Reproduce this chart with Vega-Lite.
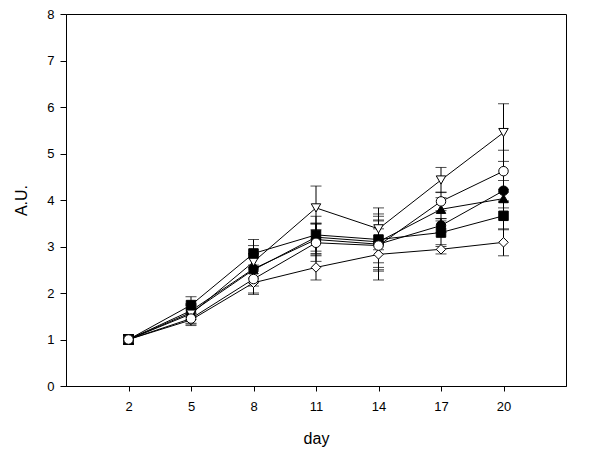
{
  "$schema": "https://vega.github.io/schema/vega-lite/v6.json",
  "width": 500,
  "height": 372,
  "autosize": "none",
  "padding": {"left": 66, "top": 14, "right": 34, "bottom": 75},
  "background": "white",
  "config": {
    "view": {"stroke": "black", "strokeWidth": 1},
    "font": "Liberation Sans",
    "axis": {"domainColor": "black", "tickColor": "black", "labelColor": "black", "titleColor": "black", "grid": false, "labelFont": "Liberation Sans", "titleFont": "Liberation Sans", "titleFontWeight": "normal", "labelFontSize": 13, "titleFontSize": 16}
  },
  "data": {
    "values": [
      {"series": "A", "ord": 1, "day": 2, "value": 1.0, "se": 0.1},
      {"series": "A", "ord": 1, "day": 5, "value": 1.62, "se": 0.15},
      {"series": "A", "ord": 1, "day": 8, "value": 2.52, "se": 0.3},
      {"series": "A", "ord": 1, "day": 11, "value": 3.15, "se": 0.35},
      {"series": "A", "ord": 1, "day": 14, "value": 3.05, "se": 0.5},
      {"series": "A", "ord": 1, "day": 17, "value": 3.45, "se": 0.15},
      {"series": "A", "ord": 1, "day": 20, "value": 4.2, "se": 0.22},
      {"series": "B", "ord": 6, "day": 2, "value": 1.0, "se": 0.1},
      {"series": "B", "ord": 6, "day": 5, "value": 1.45, "se": 0.12},
      {"series": "B", "ord": 6, "day": 8, "value": 2.3, "se": 0.3},
      {"series": "B", "ord": 6, "day": 11, "value": 3.08, "se": 0.4},
      {"series": "B", "ord": 6, "day": 14, "value": 3.02, "se": 0.55},
      {"series": "B", "ord": 6, "day": 17, "value": 3.97, "se": 0.2},
      {"series": "B", "ord": 6, "day": 20, "value": 4.62, "se": 0.45},
      {"series": "C", "ord": 2, "day": 2, "value": 1.0, "se": 0.1},
      {"series": "C", "ord": 2, "day": 5, "value": 1.58, "se": 0.15},
      {"series": "C", "ord": 2, "day": 8, "value": 2.5, "se": 0.35},
      {"series": "C", "ord": 2, "day": 11, "value": 3.2, "se": 0.3},
      {"series": "C", "ord": 2, "day": 14, "value": 3.1, "se": 0.6},
      {"series": "C", "ord": 2, "day": 17, "value": 3.8, "se": 0.25},
      {"series": "C", "ord": 2, "day": 20, "value": 4.03, "se": 0.2},
      {"series": "D", "ord": 3, "day": 2, "value": 1.0, "se": 0.1},
      {"series": "D", "ord": 3, "day": 5, "value": 1.55, "se": 0.2},
      {"series": "D", "ord": 3, "day": 8, "value": 2.67, "se": 0.35},
      {"series": "D", "ord": 3, "day": 11, "value": 3.83, "se": 0.47},
      {"series": "D", "ord": 3, "day": 14, "value": 3.38, "se": 0.45},
      {"series": "D", "ord": 3, "day": 17, "value": 4.43, "se": 0.27},
      {"series": "D", "ord": 3, "day": 20, "value": 5.45, "se": 0.62},
      {"series": "E", "ord": 4, "day": 2, "value": 1.0, "se": 0.1},
      {"series": "E", "ord": 4, "day": 5, "value": 1.74, "se": 0.18},
      {"series": "E", "ord": 4, "day": 8, "value": 2.85, "se": 0.3},
      {"series": "E", "ord": 4, "day": 11, "value": 3.25, "se": 0.4},
      {"series": "E", "ord": 4, "day": 14, "value": 3.15, "se": 0.5},
      {"series": "E", "ord": 4, "day": 17, "value": 3.3, "se": 0.3},
      {"series": "E", "ord": 4, "day": 20, "value": 3.66, "se": 0.3},
      {"series": "F", "ord": 5, "day": 2, "value": 1.0, "se": 0.08},
      {"series": "F", "ord": 5, "day": 5, "value": 1.42, "se": 0.12},
      {"series": "F", "ord": 5, "day": 8, "value": 2.22, "se": 0.25},
      {"series": "F", "ord": 5, "day": 11, "value": 2.55, "se": 0.27},
      {"series": "F", "ord": 5, "day": 14, "value": 2.83, "se": 0.55},
      {"series": "F", "ord": 5, "day": 17, "value": 2.94, "se": 0.1},
      {"series": "F", "ord": 5, "day": 20, "value": 3.09, "se": 0.29}
    ]
  },
  "encoding": {
    "x": {
      "field": "day", "type": "quantitative",
      "scale": {"domain": [-1, 23], "nice": false, "zero": false},
      "axis": {"title": "day", "values": [2, 5, 8, 11, 14, 17, 20], "tickSize": 5, "labelPadding": 9, "titlePadding": 17}
    },
    "y": {
      "field": "value", "type": "quantitative",
      "scale": {"domain": [0, 8], "nice": false},
      "axis": {"title": "A.U.", "values": [0, 1, 2, 3, 4, 5, 6, 7, 8], "tickSize": 6, "labelPadding": 6, "titlePadding": 17}
    }
  },
  "layer": [
    {
      "mark": {"type": "errorbar", "ticks": {"size": 11, "color": "black"}, "rule": {"color": "black", "strokeWidth": 1}},
      "encoding": {"yError": {"field": "se"}, "detail": {"field": "series"}}
    },
    {
      "mark": {"type": "line", "color": "black", "strokeWidth": 1},
      "encoding": {"detail": {"field": "series"}}
    },
    {
      "mark": {"type": "point", "filled": true, "stroke": "black", "strokeWidth": 1, "opacity": 1, "size": 90},
      "encoding": {
        "order": {"field": "ord", "type": "quantitative"},
        "shape": {"field": "series", "type": "nominal", "legend": null,
          "scale": {"domain": ["A", "B", "C", "D", "E", "F"], "range": ["circle", "circle", "triangle-up", "triangle-down", "square", "diamond"]}},
        "fill": {"field": "series", "type": "nominal", "legend": null,
          "scale": {"domain": ["A", "B", "C", "D", "E", "F"], "range": ["black", "white", "black", "white", "black", "white"]}}
      }
    }
  ]
}
